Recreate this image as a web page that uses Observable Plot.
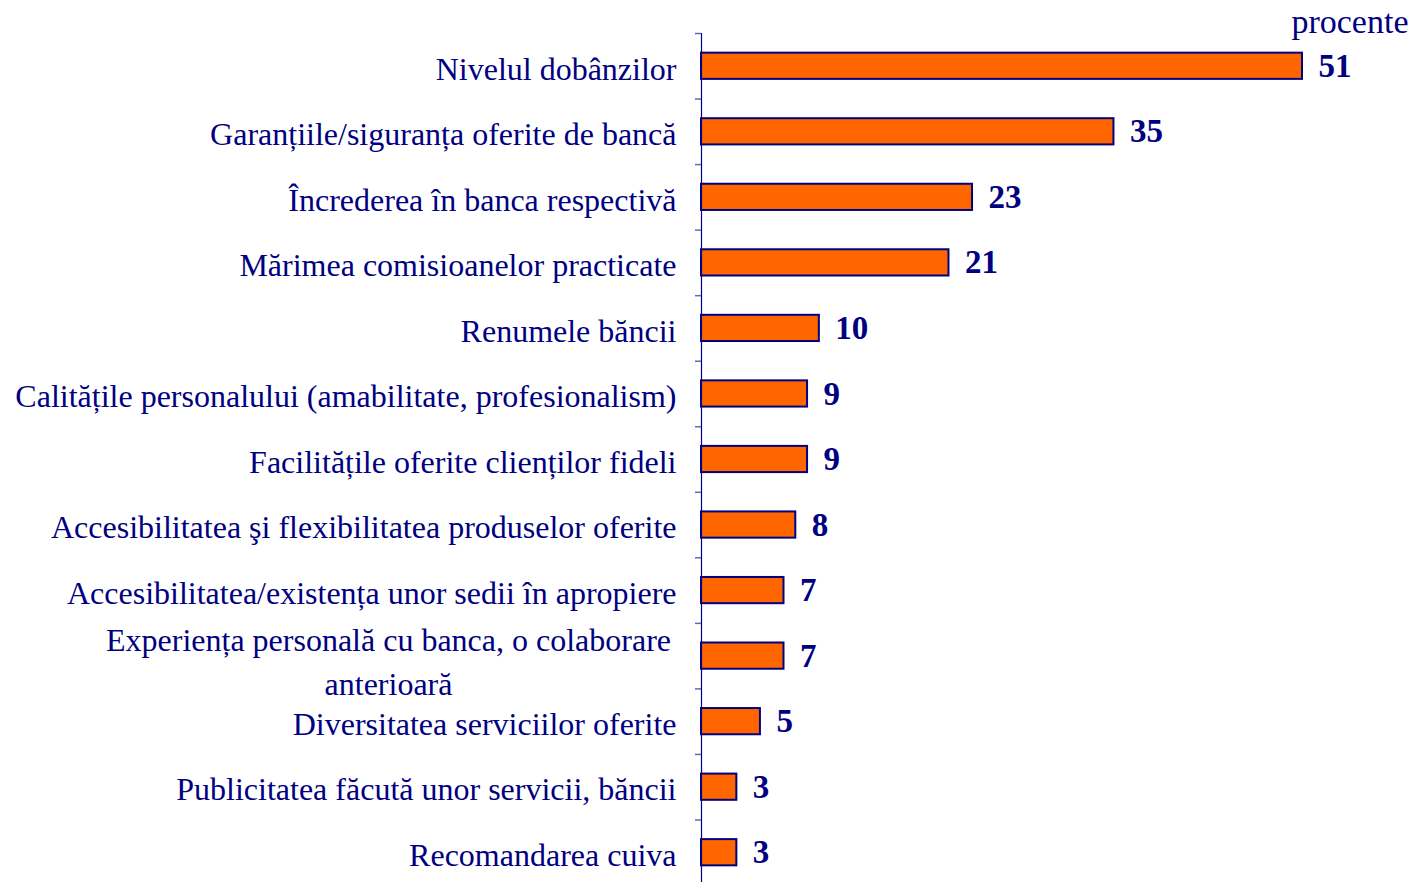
<!DOCTYPE html>
<html>
<head>
<meta charset="utf-8">
<script src="https://cdn.jsdelivr.net/npm/d3@7"></script>
<script src="https://cdn.jsdelivr.net/npm/@observablehq/plot@0.6"></script>
<style>
  html, body { margin: 0; padding: 0; background: #fff; overflow: hidden; }
  svg { font-family: "Liberation Serif", "Times New Roman", serif; }
</style>
</head>
<body>
<div id="chart"></div>
<script>
const categories = [
  "Nivelul dobânzilor",
  "Garanțiile/siguranța oferite de bancă",
  "Încrederea în banca respectivă",
  "Mărimea comisioanelor practicate",
  "Renumele băncii",
  "Calitățile personalului (amabilitate, profesionalism)",
  "Facilitățile oferite clienților fideli",
  "Accesibilitatea şi flexibilitatea produselor oferite",
  "Accesibilitatea/existența unor sedii în apropiere",
  "Experiența personală cu banca, o colaborare anterioară",
  "Diversitatea serviciilor oferite",
  "Publicitatea făcută unor servicii, băncii",
  "Recomandarea cuiva"
];
const values = [51, 35, 23, 21, 10, 9, 9, 8, 7, 7, 5, 3, 3];
const wrappedCategory = "Experiența personală cu banca, o colaborare anterioară";
const wrappedLines = "Experiența personală cu banca, o colaborare\nanterioară";
const unitLabel = "procente";

const data = categories.map((c, i) => ({category: c, value: values[i]}));
const navy = "#000080";

const chart = Plot.plot({
  width: 1412,
  height: 882,
  marginLeft: 701,
  marginRight: 110,
  marginTop: 33,
  marginBottom: -3,
  x: {domain: [0, 51], axis: null},
  y: {domain: categories, paddingInner: 0.6, paddingOuter: 0.3, round: false, axis: null},
  marks: [
    Plot.barX(data, {x: "value", y: "category", fill: "#FF6600", stroke: navy, strokeWidth: 2}),
    Plot.ruleX([0], {stroke: navy, strokeWidth: 1.2}),
    Plot.ruleY(categories, {y: d => d, x1: 0, x2: 0, insetLeft: -6, dy: -32.75, stroke: navy, strokeOpacity: 0.6, strokeWidth: 1.5}),
    Plot.text(data.filter(d => d.category !== wrappedCategory), {
      x: 0, y: "category", text: "category", textAnchor: "end", dx: -25, dy: 3,
      fill: navy, fontSize: 32
    }),
    Plot.text(data.filter(d => d.category === wrappedCategory), {
      x: 0, y: "category", text: () => wrappedLines, textAnchor: "middle", dx: -313, dy: 3,
      lineHeight: 1.375, fill: navy, fontSize: 32
    }),
    Plot.text(data, {
      x: "value", y: "category", text: d => String(d.value), textAnchor: "start", dx: 16,
      fill: navy, fontSize: 33, fontWeight: "bold"
    }),
    Plot.text([unitLabel], {
      frameAnchor: "top-right", text: d => d, textAnchor: "end", dx: 106, dy: -11,
      lineAnchor: "middle", fill: navy, fontSize: 34
    })
  ]
});
document.getElementById("chart").appendChild(chart);
</script>
</body>
</html>
